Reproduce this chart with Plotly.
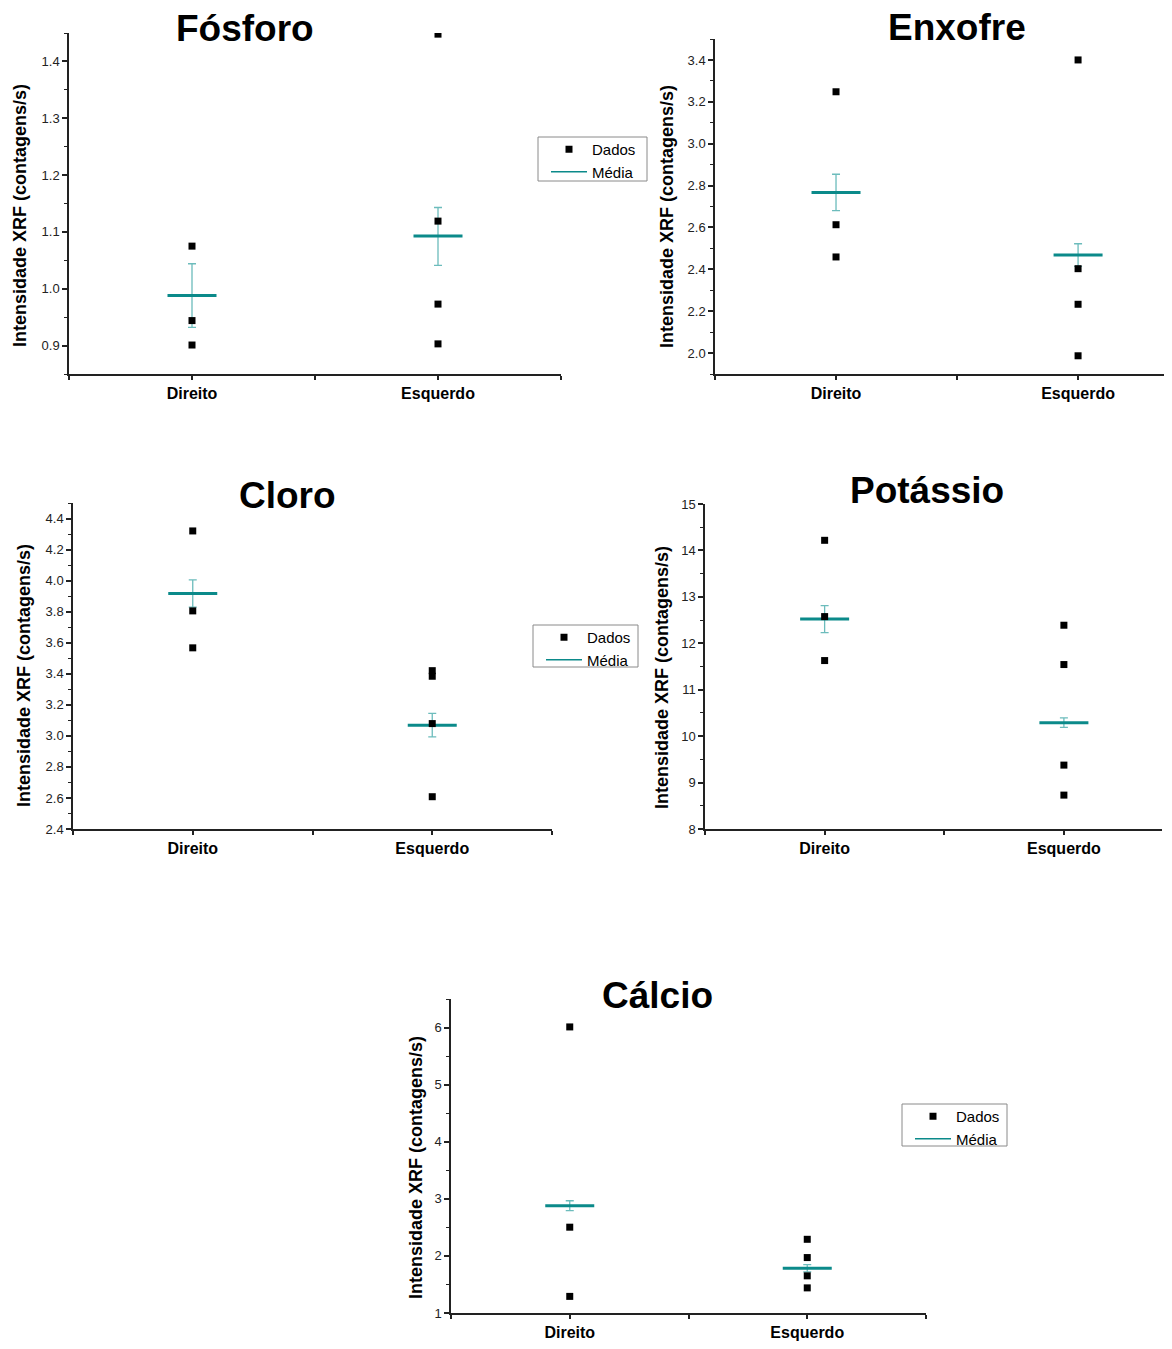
import plotly.graph_objects as go

# ---------------- data ----------------
categories = ["Direito", "Esquerdo"]

fosforo_direito = [1.075, 0.944, 0.901]
fosforo_esquerdo = [1.448, 1.119, 0.973, 0.903]
fosforo_media = [0.988, 1.093]
fosforo_err_mais = [0.056, 0.050]
fosforo_err_menos = [0.056, 0.052]

enxofre_direito = [3.248, 2.613, 2.459]
enxofre_esquerdo = [3.400, 2.403, 2.233, 1.987]
enxofre_media = [2.767, 2.468]
enxofre_err_mais = [0.087, 0.054]
enxofre_err_menos = [0.087, 0.054]

cloro_direito = [4.320, 3.805, 3.567]
cloro_esquerdo = [3.420, 3.384, 3.079, 2.608]
cloro_media = [3.917, 3.068]
cloro_err_mais = [0.088, 0.077]
cloro_err_menos = [0.088, 0.075]

potassio_direito = [14.218, 12.575, 11.628]
potassio_esquerdo = [12.389, 11.542, 9.376, 8.730]
potassio_media = [12.525, 10.287]
potassio_err_mais = [0.287, 0.108]
potassio_err_menos = [0.294, 0.100]

calcio_direito = [6.011, 2.503, 1.291]
calcio_esquerdo = [2.291, 1.971, 1.651, 1.440]
calcio_media = [2.880, 1.783]
calcio_err_mais = [0.086, 0.063]
calcio_err_menos = [0.086, 0.063]

titles = ["Fósforo", "Enxofre", "Cloro", "Potássio", "Cálcio"]
y_title = "Intensidade XRF (contagens/s)"
legend_names = ["Dados", "Média"]

# ---------------- layout (target pixel positions in the 1172x1349 shot) ----------------
OFF = 8                      # default page body margin
W, H = 1172 - 2 * OFF, 1349 - 2 * OFF
FONT = "Liberation Sans, Arial, sans-serif"
TEAL = "#0b8a8a"
TEAL_LIGHT = "#6cbcbc"


def px(x):
    return min(1.0, max(0.0, (x - OFF) / W))


def py(y):
    return min(1.0, max(0.0, 1 - (y - OFF) / H))


panels = [
    dict(data=(fosforo_direito, fosforo_esquerdo), mean=fosforo_media,
         ep=fosforo_err_mais, em=fosforo_err_menos,
         box=(69, 561, 33, 374), xr=[0.5, 2.5], yr=[0.85, 1.45], dt=0.1, mdt=0.05, fmt=".1f",
         title_xy=(245, 29), ytitle_xy=(20, 216), legend=(538, 137, 647, 181)),
    dict(data=(enxofre_direito, enxofre_esquerdo), mean=enxofre_media,
         ep=enxofre_err_mais, em=enxofre_err_menos,
         box=(715, 1164, 39, 374), xr=[0.5, 2.355], yr=[1.9, 3.5], dt=0.2, mdt=0.1, fmt=".1f",
         title_xy=(957, 27), ytitle_xy=(667, 217), legend=None),
    dict(data=(cloro_direito, cloro_esquerdo), mean=cloro_media,
         ep=cloro_err_mais, em=cloro_err_menos,
         box=(73, 552, 503, 829), xr=[0.5, 2.5], yr=[2.4, 4.5], dt=0.2, mdt=0.1, fmt=".1f",
         title_xy=(287, 495), ytitle_xy=(24, 676), legend=(533, 625, 638, 667)),
    dict(data=(potassio_direito, potassio_esquerdo), mean=potassio_media,
         ep=potassio_err_mais, em=potassio_err_menos,
         box=(705, 1162, 504, 829), xr=[0.5, 2.41], yr=[8, 15], dt=1, mdt=0.5, fmt="d",
         title_xy=(927, 490), ytitle_xy=(662, 678), legend=None),
    dict(data=(calcio_direito, calcio_esquerdo), mean=calcio_media,
         ep=calcio_err_mais, em=calcio_err_menos,
         box=(451, 926, 999, 1313), xr=[0.5, 2.5], yr=[1, 6.5], dt=1, mdt=0.5, fmt="d",
         title_xy=(657, 995), ytitle_xy=(416, 1168), legend=(902, 1104, 1007, 1146)),
]

positions = [i + 1 for i in range(len(categories))]
tickvals = [0.5, 1, 1.5, 2, 2.5]
ticktext = ["", categories[0], "", categories[1], ""]

fig = go.Figure()
annotations = []
shapes = []
legend_count = 0

for k, p in enumerate(panels):
    sfx = "" if k == 0 else str(k + 1)
    xa, ya = "x" + sfx, "y" + sfx
    x0, x1, y0, y1 = p["box"]
    legend_id = None
    if p["legend"] is not None:
        legend_count += 1
        legend_id = "legend" if legend_count == 1 else "legend%d" % legend_count

    # mean with error bars
    fig.add_trace(go.Scatter(
        x=positions, y=p["mean"], mode="markers", xaxis=xa, yaxis=ya,
        marker=dict(symbol="line-ew", size=35, color=TEAL,
                    line=dict(color=TEAL, width=3)),
        error_y=dict(type="data", array=p["ep"], arrayminus=p["em"], symmetric=False,
                     color=TEAL_LIGHT, thickness=1.3, width=4),
        showlegend=False, hoverinfo="y"))

    # data points
    xs, ys = [], []
    for pos, vals in zip(positions, p["data"]):
        xs += [pos] * len(vals)
        ys += list(vals)
    fig.add_trace(go.Scatter(
        x=xs, y=ys, mode="markers", xaxis=xa, yaxis=ya, name=legend_names[0],
        marker=dict(symbol="square", size=7, color="black"),
        showlegend=legend_id is not None,
        legend=legend_id if legend_id else "legend"))
    if legend_id:
        fig.add_trace(go.Scatter(
            x=[None], y=[None], mode="lines", xaxis=xa, yaxis=ya, name=legend_names[1],
            line=dict(color=TEAL, width=1.5), showlegend=True, legend=legend_id))
        bx0, by0, bx1, by1 = p["legend"]
        fig.update_layout({legend_id: dict(
            x=px(bx0 + 8), y=py(by0 - 4), xanchor="left", yanchor="top",
            bgcolor="rgba(0,0,0,0)", borderwidth=0,
            font=dict(family=FONT, size=15, color="black"),
            tracegroupgap=0, itemwidth=36)})
        shapes.append(dict(type="rect", xref="paper", yref="paper",
                           x0=px(bx0), x1=px(bx1), y0=py(by1), y1=py(by0),
                           line=dict(color="#8a8a8a", width=1), fillcolor="rgba(0,0,0,0)",
                           layer="below"))

    axis_common = dict(showgrid=False, zeroline=False, showline=True, linecolor="#222",
                       linewidth=1.5, ticks="outside", tickcolor="#222", tickwidth=1.5,
                       ticklen=5, automargin=False)
    fig.update_layout({
        ("xaxis" + sfx): dict(axis_common, domain=[px(x0), px(x1)], anchor=ya,
                              range=p["xr"], tickmode="array", tickvals=tickvals,
                              ticktext=ticktext, ticklen=4,
                              tickfont=dict(family=FONT, size=16, color="black", weight="bold")),
        ("yaxis" + sfx): dict(axis_common, domain=[py(y1), py(y0)], anchor=xa,
                              range=p["yr"], dtick=p["dt"], tick0=0, tickformat=p["fmt"],
                              tickfont=dict(family=FONT, size=13, color="#222"),
                              minor=dict(dtick=p["mdt"], ticks="outside", ticklen=3,
                                         tickwidth=1, tickcolor="#222", showgrid=False)),
    })

    tx, ty = p["title_xy"]
    annotations.append(dict(text="<b>%s</b>" % titles[k], x=px(tx), y=py(ty),
                            xref="paper", yref="paper", xanchor="center", yanchor="middle",
                            showarrow=False, font=dict(family=FONT, size=37, color="black")))
    ax_, ay_ = p["ytitle_xy"]
    annotations.append(dict(text="<b>%s</b>" % y_title, x=px(ax_), y=py(ay_),
                            xref="paper", yref="paper", xanchor="center", yanchor="middle",
                            textangle=-90, showarrow=False,
                            font=dict(family=FONT, size=18, color="black")))

fig.update_layout(
    template="none",
    width=W, height=H, autosize=False,
    margin=dict(l=0, r=0, t=0, b=0, pad=0, autoexpand=False),
    paper_bgcolor="white", plot_bgcolor="white",
    annotations=annotations, shapes=shapes,
    font=dict(family=FONT, color="black"),
)

fig.write_html("out.html")
